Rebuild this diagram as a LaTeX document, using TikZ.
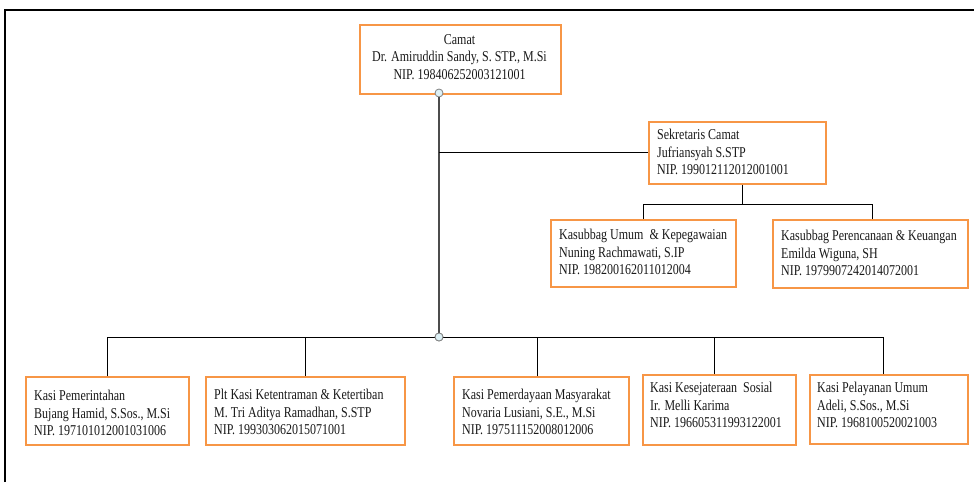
\documentclass[tikz,border=0pt]{standalone}
\usepackage{fontspec}
\setmainfont[FakeStretch=0.8]{Liberation Serif}
\usetikzlibrary{calc}
\definecolor{boxorange}{HTML}{F79646}
\definecolor{hubfill}{HTML}{DDF1F6}
\tikzset{
  orgbox/.style={draw=boxorange, line width=1.7pt, fill=white, anchor=north west,
    inner sep=0pt},
  orgtxt/.style={inner sep=0pt, align=left, anchor=west, text=black!90,
    font=\fontsize{15}{17.5}\selectfont},
  link/.style={draw=black, line width=0.9pt},
  trunk/.style={draw=black!70, line width=1.1pt},
  hub/.style={circle, draw=gray, line width=0.8pt, fill=hubfill, minimum size=8pt, inner sep=0pt},
}
\begin{document}
\begin{tikzpicture}[x=1pt,y=-1pt]
\useasboundingbox (0,0) rectangle (974,482);

% page frame
\draw[line width=1.4pt] (5,482) -- (5,10) -- (974,10);

% boxes: (left,top) and size
\node[orgbox, minimum width=201pt, minimum height=69pt] (camat) at (359,24) {};
\node[orgbox, minimum width=177pt, minimum height=62pt] (sek) at (648,121) {};
\node[orgbox, minimum width=185pt, minimum height=67pt] (umum) at (550,219) {};
\node[orgbox, minimum width=195pt, minimum height=68pt] (renc) at (772,219) {};
\node[orgbox, minimum width=163pt, minimum height=68pt] (k1) at (25,376) {};
\node[orgbox, minimum width=199pt, minimum height=68pt] (k2) at (205,376) {};
\node[orgbox, minimum width=175pt, minimum height=68pt] (k3) at (453,376) {};
\node[orgbox, minimum width=153pt, minimum height=70pt] (k4) at (642,374) {};
\node[orgbox, minimum width=158pt, minimum height=69pt] (k5) at (809,374) {};

% texts
\node[orgtxt, anchor=center, align=center] (camatT) at (459.5,57)
  {Camat\\Dr. Amiruddin Sandy, S. STP., M.Si\\NIP. 198406252003121001};
\node[orgtxt] (sekT) at (657,152)
  {Sekretaris Camat\\Jufriansyah S.STP\\NIP. 199012112012001001};
\node[orgtxt] (umumT) at (559,252)
  {Kasubbag Umum \ \& Kepegawaian\\Nuning Rachmawati, S.IP\\NIP. 198200162011012004};
\node[orgtxt] (rencT) at (781,253)
  {Kasubbag Perencanaan \& Keuangan\\Emilda Wiguna, SH\\NIP. 1979907242014072001};
\node[orgtxt] (k1T) at (34,413)
  {Kasi Pemerintahan\\Bujang Hamid, S.Sos., M.Si\\NIP. 197101012001031006};
\node[orgtxt] (k2T) at (214,412)
  {Plt Kasi Ketentraman \& Ketertiban\\M. Tri Aditya Ramadhan, S.STP\\NIP. 199303062015071001};
\node[orgtxt] (k3T) at (462,412)
  {Kasi Pemerdayaan Masyarakat\\Novaria Lusiani, S.E., M.Si\\NIP. 197511152008012006};
\node[orgtxt] (k4T) at (650,405)
  {Kasi Kesejateraan \ Sosial\\Ir. Melli Karima\\NIP. 196605311993122001};
\node[orgtxt] (k5T) at (817,405)
  {Kasi Pelayanan Umum\\Adeli, S.Sos., M.Si\\NIP. 1968100520021003};

% hubs on the main trunk
\node[hub] (h1) at (439,93) {};
\node[hub] (h2) at (439,337) {};

% main trunk and secretary branch
\draw[trunk] (h1) -- (h2);
\draw[link] (h1 |- sek.west) -- (sek.west);

% secretary to sub-sections
\coordinate (sj) at ($(sek.south)+(5.5,20)$);
\draw[link] ([xshift=5.5pt]sek.south) -- (sj);
\draw[link] (umum.north) |- (sj);
\draw[link] ([xshift=2.5pt]renc.north) |- (sj);

% sections below the bus
\draw[link] (k1.north) |- (h2);
\draw[link] (k2.north) |- (h2);
\draw[link] ([xshift=-3.5pt]k3.north) |- (h2);
\draw[link] ([xshift=-4.5pt]k4.north) |- (h2);
\draw[link] ([xshift=-5pt]k5.north) |- (h2);
\node[hub] at (h2) {};
\end{tikzpicture}
\end{document}
